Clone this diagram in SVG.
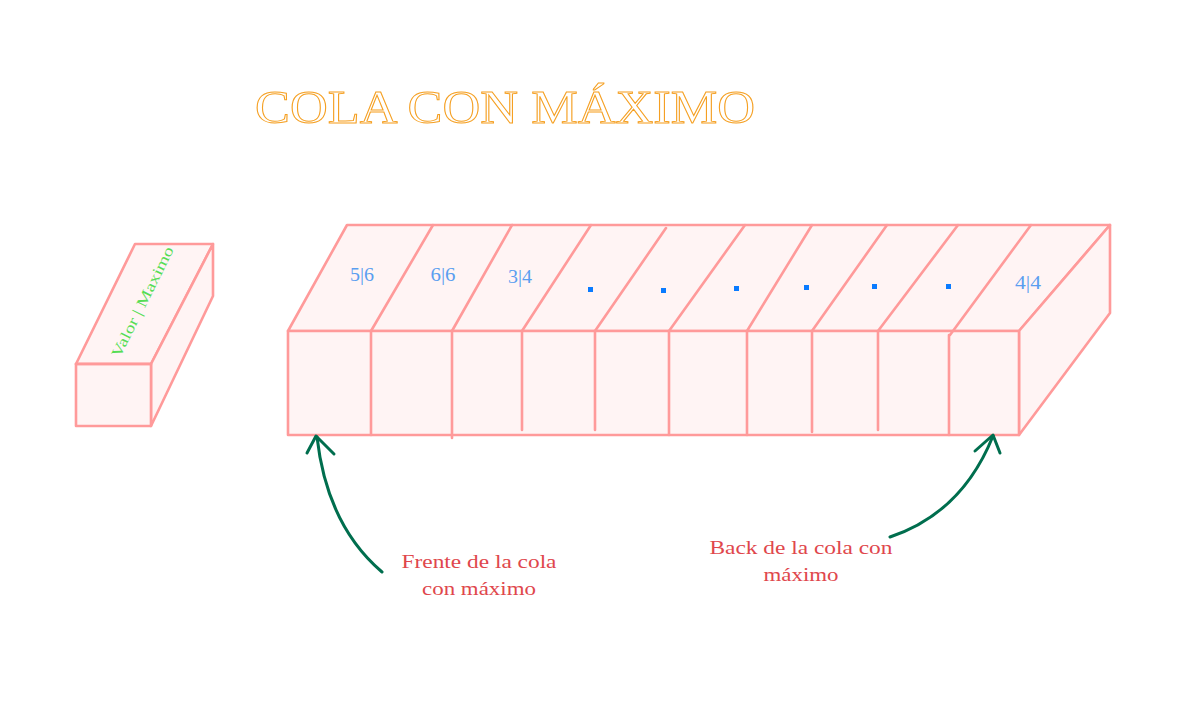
<svg xmlns="http://www.w3.org/2000/svg" width="1198" height="717" viewBox="0 0 1198 717">
<defs>
<style>
.box{fill:#fff4f4;stroke:#ff9a9a;stroke-width:2.6;stroke-linejoin:round;stroke-linecap:round}
.ln{fill:none;stroke:#ff9a9a;stroke-width:2.6;stroke-linecap:round}
.val{font-family:"Liberation Serif",serif;font-size:18px;fill:#5a9ef0;text-anchor:middle}
.dot{fill:#0a7bff}
.lab{font-family:"Liberation Serif",serif;font-size:19px;fill:#e0474c;text-anchor:middle}
.arr{fill:none;stroke:#006e4e;stroke-width:3;stroke-linecap:round;stroke-linejoin:round}
</style>
</defs>
<rect width="1198" height="717" fill="#ffffff"/>
<g id="title">
<text x="255" y="123" textLength="500" lengthAdjust="spacingAndGlyphs" font-family="Liberation Serif, serif" font-size="47" fill="#ffffff" stroke="#f5a023" stroke-width="1">COLA CON MÁXIMO</text>
</g>
<g id="legend-box">
<polygon class="box" points="76,364 135,244 213,244 151,364"/>
<polygon class="box" points="151,364 213,244 213,296 151,426"/>
<rect class="box" x="76" y="364" width="75" height="62"/>
<line class="ln" x1="76" y1="364" x2="151" y2="364" stroke-width="3.5"/>
<text transform="translate(147,304) rotate(-63.5)" font-family="Liberation Serif, serif" font-size="15" fill="#55dd55" text-anchor="middle" textLength="122" lengthAdjust="spacingAndGlyphs">Valor | Maximo</text>
</g>
<g id="queue">
<polygon class="box" points="288,331 347,225 1110,225 1019,331"/>
<polygon class="box" points="1019,331 1110,225 1110,313 1019,435"/>
<rect class="box" x="288" y="331" width="731" height="104"/>
<path class="ln" d="M371,331 L433,225 M452,331 L512,225 M522,331 L591,225 M595,331 L666,228 M669,331 L745,225 M747,331 L812,225 M812,331 L887,225 M878,331 L958,225 M950,335 L1031,225"/>
<path class="ln" d="M371,331 V435 M452,331 V438 M522,331 V430 M595,331 V430 M669,331 V435 M747,331 V435 M812,331 V432 M878,331 V430 M949,335 V435"/>
</g>
<g id="cells">
<text class="val" x="362" y="281" textLength="24" lengthAdjust="spacingAndGlyphs">5|6</text>
<text class="val" x="443" y="281" textLength="25" lengthAdjust="spacingAndGlyphs">6|6</text>
<text class="val" x="520" y="283" textLength="24" lengthAdjust="spacingAndGlyphs">3|4</text>
<rect class="dot" x="588" y="287" width="5" height="5"/>
<rect class="dot" x="661" y="288" width="5" height="5"/>
<rect class="dot" x="734" y="286" width="5" height="5"/>
<rect class="dot" x="804" y="285" width="5" height="5"/>
<rect class="dot" x="872" y="284" width="5" height="5"/>
<rect class="dot" x="946" y="284" width="5" height="5"/>
<text class="val" x="1028" y="289" textLength="26" lengthAdjust="spacingAndGlyphs">4|4</text>
</g>
<g id="connectors">
<path class="arr" d="M382,572 Q327,525 317,437"/>
<path class="arr" d="M307,453 L316,436 L334,454"/>
<path class="arr" d="M890,537 Q962,513 993,436"/>
<path class="arr" d="M975,451 L993,435 L1000,453"/>
</g>
<g id="label-front">
<text class="lab" x="479" y="568" textLength="155" lengthAdjust="spacingAndGlyphs">Frente de la cola</text>
<text class="lab" x="479" y="595" textLength="114" lengthAdjust="spacingAndGlyphs">con máximo</text>
</g>
<g id="label-back">
<text class="lab" x="801" y="554" textLength="183" lengthAdjust="spacingAndGlyphs">Back de la cola con</text>
<text class="lab" x="801" y="581" textLength="75" lengthAdjust="spacingAndGlyphs">máximo</text>
</g>
</svg>
